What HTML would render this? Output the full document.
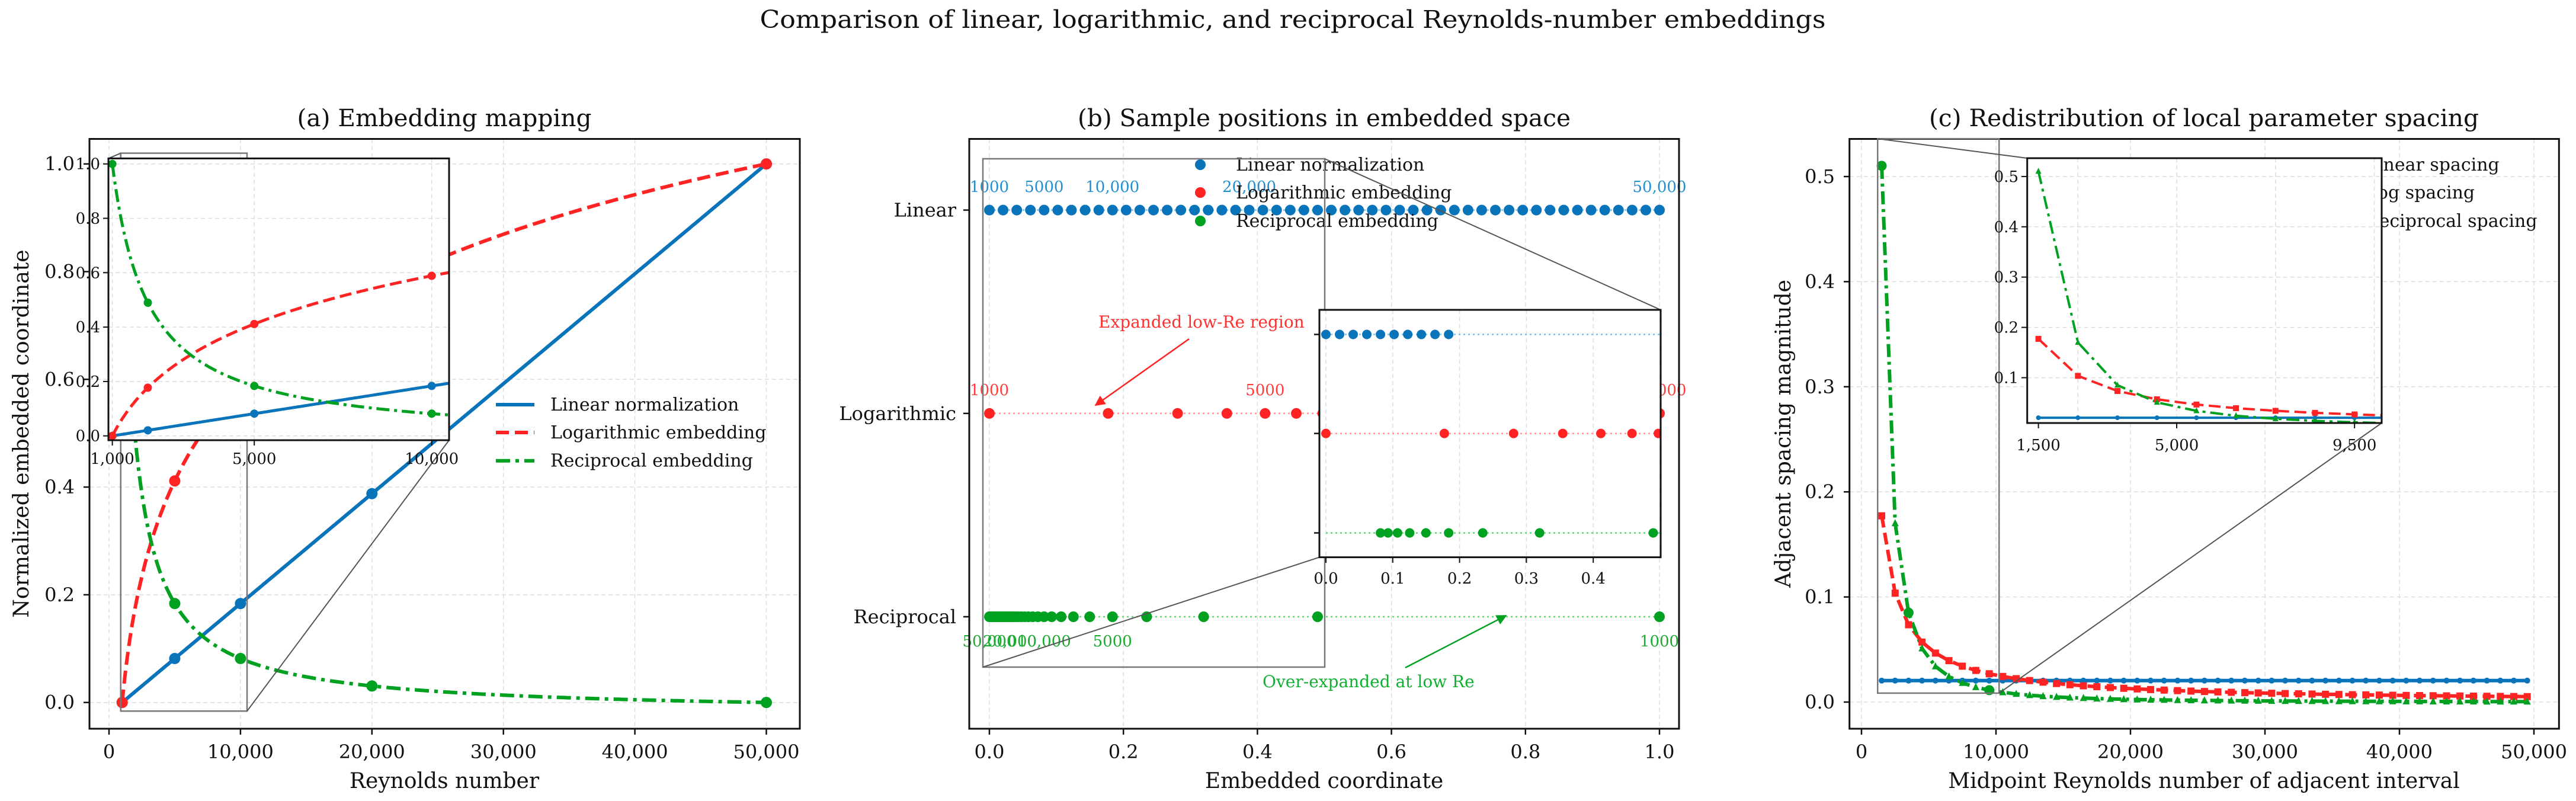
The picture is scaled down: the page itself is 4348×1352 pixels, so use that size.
<!DOCTYPE html>
<html><head><meta charset="utf-8"><title>Reynolds-number embeddings</title>
<style>
html,body{margin:0;padding:0;background:#fff;}
svg{display:block;font-family:"DejaVu Serif","Liberation Serif",serif;}
</style></head>
<body>
<svg id="fig" xmlns="http://www.w3.org/2000/svg" width="4348" height="1352" viewBox="0 0 4348 1352">
<defs>
<clipPath id="clipA"><rect x="151" y="234.5" width="1199" height="995.5"/></clipPath>
<clipPath id="clipAi"><rect x="183" y="267.4" width="575" height="475.6"/></clipPath>
<clipPath id="clipB"><rect x="1636" y="234.5" width="1198" height="995.5"/></clipPath>
<clipPath id="clipBi"><rect x="2227" y="523" width="576" height="417.6"/></clipPath>
<clipPath id="clipC"><rect x="3121.7" y="234.5" width="1197.6" height="995.5"/></clipPath>
<clipPath id="clipCi"><rect x="3421.7" y="267" width="598.3" height="447"/></clipPath>
<marker id="arrRed" viewBox="0 0 10 10" refX="9" refY="5" markerWidth="7" markerHeight="7" orient="auto"><path d="M0,0 L10,5 L0,10 z" fill="#ff2020"/></marker>
<marker id="arrGreen" viewBox="0 0 10 10" refX="9" refY="5" markerWidth="7" markerHeight="7" orient="auto"><path d="M0,0 L10,5 L0,10 z" fill="#00a020"/></marker>
</defs>
</svg>
<script>
// ---------------- data ----------------
const reSamples = [1000,2000,3000,4000,5000,6000,7000,8000,9000,10000,11000,12000,13000,14000,15000,16000,17000,18000,19000,20000,21000,22000,23000,24000,25000,26000,27000,28000,29000,30000,31000,32000,33000,34000,35000,36000,37000,38000,39000,40000,41000,42000,43000,44000,45000,46000,47000,48000,49000,50000];
const reMin = 1000;
const reMax = 50000;
const markerRe = [1000,5000,10000,20000,50000];
const insetMarkerRe = [1000,2000,5000,10000];
const insetSampleRe = [1000,2000,3000,4000,5000,6000,7000,8000,9000,10000];
const linearLabelRe = [1000,5000,10000,20000,50000];
const linearLabels = ["1000","5000","10,000","20,000","50,000"];
const logLabelRe = [1000,5000,50000];
const logLabels = ["1000","5000","50,000"];
const recLabelRe = [1000,5000,10000,20000,50000];
const recLabels = ["1000","5000","10,000","20,000","50,000"];
const midpoints = [1500,2500,3500,4500,5500,6500,7500,8500,9500,10500,11500,12500,13500,14500,15500,16500,17500,18500,19500,20500,21500,22500,23500,24500,25500,26500,27500,28500,29500,30500,31500,32500,33500,34500,35500,36500,37500,38500,39500,40500,41500,42500,43500,44500,45500,46500,47500,48500,49500];
const highlightMid = [1500,3500,9500];
const xTicksA = [0,10000,20000,30000,40000,50000];
const xTickLabelsA = ["0","10,000","20,000","30,000","40,000","50,000"];
const yTicksA = [0,0.2,0.4,0.6,0.8,1.0];
const yTickLabelsA = ["0.0","0.2","0.4","0.6","0.8","1.0"];
const xTicksAi = [1000,5000,10000];
const xTickLabelsAi = ["1,000","5,000","10,000"];
const xTicksB = [0,0.2,0.4,0.6,0.8,1.0];
const xTickLabelsB = ["0.0","0.2","0.4","0.6","0.8","1.0"];
const rowNames = ["Reciprocal","Logarithmic","Linear"];
const xTicksBi = [0,0.1,0.2,0.3,0.4];
const xTickLabelsBi = ["0.0","0.1","0.2","0.3","0.4"];
const yTicksC = [0,0.1,0.2,0.3,0.4,0.5];
const yTickLabelsC = ["0.0","0.1","0.2","0.3","0.4","0.5"];
const yTicksCi = [0.1,0.2,0.3,0.4,0.5];
const yTickLabelsCi = ["0.1","0.2","0.3","0.4","0.5"];
const xTicksCi = [1500,5000,9500];
const xTickLabelsCi = ["1,500","5,000","9,500"];

// embedding definitions
function linEmb(re){return (re-reMin)/(reMax-reMin);}
function logEmb(re){return Math.log(re/reMin)/Math.log(reMax/reMin);}
function recEmb(re){return (1/re-1/reMax)/(1/reMin-1/reMax);}
function linSp(m){return linEmb(m+500)-linEmb(m-500);}
function logSp(m){return logEmb(m+500)-logEmb(m-500);}
function recSp(m){return recEmb(m-500)-recEmb(m+500);}

// ---------------- scales ----------------
const xA=v=>184+v*0.02219, yA=v=>1185.7-v*909;
const xAi=v=>189.6+(v-1000)*0.0599, yAi=v=>735.7-v*459;
const xB=v=>1670+v*1131, yB=i=>1041-i*343.2;
const xBi=v=>2238+v*1128, yBiRows=[899.5,731.6,564.5];
const xC=v=>3142+v*0.0227, yC=v=>1185-v*1774;
const xCi=v=>3440.6+(v-1500)*0.0667, yCi=v=>637.5-(v-0.1)*849;

const BLUE="#0a74bb", RED="#ff2323", GREEN="#00a020";
const NS="http://www.w3.org/2000/svg";
const svg=document.getElementById('fig');
function E(tag,attrs,parent){const el=document.createElementNS(NS,tag);for(const k in attrs)el.setAttribute(k,attrs[k]);(parent||svg).appendChild(el);return el;}
function G(clip){const g=E('g',clip?{'clip-path':'url(#'+clip+')'}:{});return g;}
function T(x,y,s,size,anchor,fill,parent,extra){const t=E('text',Object.assign({x:x,y:y,'font-size':size,'text-anchor':anchor||'middle',fill:fill||'#111'},extra||{}),parent);t.textContent=s;return t;}
function pts(arr){return arr.map(p=>p[0].toFixed(1)+','+p[1].toFixed(1)).join(' ');}

let el;
// suptitle
el=T(2182,47,"Comparison of linear, logarithmic, and reciprocal Reynolds-number embeddings",41,'middle','#111',svg,{textLength:1799,lengthAdjust:'spacingAndGlyphs'});



// ================= PANEL A =================
const pA=G();  
el=T(750,213,"(a) Embedding mapping",40,'middle','#111',pA,{textLength:497,lengthAdjust:'spacingAndGlyphs'});


for(let i=0;i<xTicksA.length;i++){
  el=E('line',{x1:xA(xTicksA[i]),x2:xA(xTicksA[i]),y1:234.5,y2:1230,stroke:'#dddddd','stroke-width':1.5,'stroke-dasharray':'7,5'},pA);
  
  
}
for(let i=0;i<yTicksA.length;i++){
  el=E('line',{x1:151,x2:1350,y1:yA(yTicksA[i]),y2:yA(yTicksA[i]),stroke:'#dddddd','stroke-width':1.5,'stroke-dasharray':'7,5'},pA);
  
  
}
const gA=G('clipA'); pA.appendChild(gA);
const dense=[]; for(let r=reMin;r<=reMax;r+=100) dense.push(r);
el=E('polyline',{points:pts(dense.map(r=>[xA(r),yA(linEmb(r))])),fill:'none',stroke:BLUE,'stroke-width':6},gA);


el=E('polyline',{points:pts(dense.map(r=>[xA(r),yA(logEmb(r))])),fill:'none',stroke:RED,'stroke-width':6,'stroke-dasharray':'22,10'},gA);


el=E('polyline',{points:pts(dense.map(r=>[xA(r),yA(recEmb(r))])),fill:'none',stroke:GREEN,'stroke-width':6,'stroke-dasharray':'24,9,6,9'},gA);


for(let i=0;i<markerRe.length;i++){
  el=E('circle',{cx:xA(markerRe[i]),cy:yA(linEmb(markerRe[i])),r:9.5,fill:BLUE},gA);
  
  
  el=E('circle',{cx:xA(markerRe[i]),cy:yA(recEmb(markerRe[i])),r:9.5,fill:GREEN},gA);
  
  
  el=E('circle',{cx:xA(markerRe[i]),cy:yA(logEmb(markerRe[i])),r:9.5,fill:RED},gA);
  
  
}
el=E('rect',{x:151,y:234.5,width:1199,height:995.5,fill:'none',stroke:'#111','stroke-width':3},pA);


for(let i=0;i<xTicksA.length;i++){
  el=E('line',{x1:xA(xTicksA[i]),x2:xA(xTicksA[i]),y1:1230,y2:1240,stroke:'#111','stroke-width':2.5},pA);
  
  
  el=T(xA(xTicksA[i]),1280,xTickLabelsA[i],32,'middle','#111',pA);
  
  
}
for(let i=0;i<yTicksA.length;i++){
  el=E('line',{x1:141,x2:151,y1:yA(yTicksA[i]),y2:yA(yTicksA[i]),stroke:'#111','stroke-width':2.5},pA);
  
  
  el=T(126,yA(yTicksA[i])+11,yTickLabelsA[i],32,'end','#111',pA);
  
  
}
el=T(750,1330,"Reynolds number",36,'middle','#111',pA);


el=T(0,0,"Normalized embedded coordinate",36,'middle','#111',pA,{transform:'translate(48,732) rotate(-90)'});


const legA=[["Linear normalization",BLUE,'none'],["Logarithmic embedding",RED,'22,10'],["Reciprocal embedding",GREEN,'24,9,6,9']];
const legAy=[683,730,777.7];
for(let i=0;i<legA.length;i++){
  el=E('line',{x1:837,x2:902,y1:legAy[i],y2:legAy[i],stroke:legA[i][1],'stroke-width':6,'stroke-dasharray':legA[i][2]},pA);
  
  
  el=T(929,legAy[i]+10,legA[i][0],30,'start','#111',pA);
  
  
}
el=E('rect',{x:xA(890),y:yA(1.02),width:xA(10500)-xA(890),height:yA(-0.016)-yA(1.02),fill:'none',stroke:'#777','stroke-width':2.5},pA);


el=E('line',{x1:xA(10500),y1:yA(-0.016),x2:758,y2:743,stroke:'#555','stroke-width':2},pA);


el=E('line',{x1:xA(890),y1:yA(1.02),x2:183,y2:267.4,stroke:'#555','stroke-width':2},pA);


const iA=G(); pA.appendChild(iA);  
el=E('rect',{x:183,y:267.4,width:575,height:475.6,fill:'#fff'},iA);


for(let i=0;i<xTicksAi.length;i++){
  el=E('line',{x1:xAi(xTicksAi[i]),x2:xAi(xTicksAi[i]),y1:267.4,y2:743,stroke:'#dddddd','stroke-width':1.5,'stroke-dasharray':'7,5'},iA);
  
  
}
for(let i=0;i<yTicksA.length;i++){
  el=E('line',{x1:183,x2:758,y1:yAi(yTicksA[i]),y2:yAi(yTicksA[i]),stroke:'#dddddd','stroke-width':1.5,'stroke-dasharray':'7,5'},iA);
  
  
}
const gAi=G('clipAi'); iA.appendChild(gAi);
const denseI=[]; for(let r=reMin;r<=11000;r+=50) denseI.push(r);
el=E('polyline',{points:pts(denseI.map(r=>[xAi(r),yAi(linEmb(r))])),fill:'none',stroke:BLUE,'stroke-width':5},gAi);


el=E('polyline',{points:pts(denseI.map(r=>[xAi(r),yAi(logEmb(r))])),fill:'none',stroke:RED,'stroke-width':5,'stroke-dasharray':'20,9'},gAi);


el=E('polyline',{points:pts(denseI.map(r=>[xAi(r),yAi(recEmb(r))])),fill:'none',stroke:GREEN,'stroke-width':5,'stroke-dasharray':'22,8,5,8'},gAi);


for(let i=0;i<insetMarkerRe.length;i++){
  el=E('circle',{cx:xAi(insetMarkerRe[i]),cy:yAi(linEmb(insetMarkerRe[i])),r:7,fill:BLUE},gAi);
  
  
  el=E('circle',{cx:xAi(insetMarkerRe[i]),cy:yAi(logEmb(insetMarkerRe[i])),r:7,fill:RED},gAi);
  
  
  el=E('circle',{cx:xAi(insetMarkerRe[i]),cy:yAi(recEmb(insetMarkerRe[i])),r:7,fill:GREEN},gAi);
  
  
}
el=E('rect',{x:183,y:267.4,width:575,height:475.6,fill:'none',stroke:'#111','stroke-width':3},iA);


for(let i=0;i<xTicksAi.length;i++){
  el=E('line',{x1:xAi(xTicksAi[i]),x2:xAi(xTicksAi[i]),y1:743,y2:752,stroke:'#111','stroke-width':2},iA);
  
  
  el=T(xAi(xTicksAi[i]),783,xTickLabelsAi[i],26,'middle','#111',iA);
  
  
}
for(let i=0;i<yTicksA.length;i++){
  el=E('line',{x1:174,x2:183,y1:yAi(yTicksA[i]),y2:yAi(yTicksA[i]),stroke:'#111','stroke-width':2},iA);
  
  
  el=T(169,yAi(yTicksA[i])+9,yTickLabelsA[i],26,'end','#111',iA);
  
  
}

// ================= PANEL B =================
const pB=G();  
el=T(2235,213,"(b) Sample positions in embedded space",40,'middle','#111',pB,{textLength:832,lengthAdjust:'spacingAndGlyphs'});


for(let i=0;i<xTicksB.length;i++){
  el=E('line',{x1:xB(xTicksB[i]),x2:xB(xTicksB[i]),y1:234.5,y2:1230,stroke:'#dddddd','stroke-width':1.5,'stroke-dasharray':'7,5'},pB);
  
  
}
const gB=G('clipB'); pB.appendChild(gB);
const rowLine=["#6fce7a","#ff9a9a","#7ec0e8"];
const rowColor=[GREEN,RED,BLUE];
const rowFns=[recEmb,logEmb,linEmb];
for(let i=0;i<3;i++){
  el=E('line',{x1:xB(0),x2:xB(1),y1:yB(i),y2:yB(i),stroke:rowLine[i],'stroke-width':2.5,'stroke-dasharray':'3,5'},gB);
  
  
  for(let j=0;j<reSamples.length;j++){
    el=E('circle',{cx:xB(rowFns[i](reSamples[j])),cy:yB(i),r:9,fill:rowColor[i]},gB);
    
    
  }
}
for(let i=0;i<linearLabelRe.length;i++){
  el=T(xB(linEmb(linearLabelRe[i])),324,linearLabels[i],26,'middle','#1f8fd0',pB);
  
  
}
for(let i=0;i<logLabelRe.length;i++){
  el=T(xB(logEmb(logLabelRe[i])),667,logLabels[i],26,'middle','#ff3b3b',pB);
  
  
}
for(let i=0;i<recLabelRe.length;i++){
  el=T(xB(recEmb(recLabelRe[i])),1091,recLabels[i],26,'middle','#1aaa30',pB);
  
  
}
el=E('rect',{x:1636,y:234.5,width:1198,height:995.5,fill:'none',stroke:'#111','stroke-width':3},pB);


for(let i=0;i<xTicksB.length;i++){
  el=E('line',{x1:xB(xTicksB[i]),x2:xB(xTicksB[i]),y1:1230,y2:1240,stroke:'#111','stroke-width':2.5},pB);
  
  
  el=T(xB(xTicksB[i]),1280,xTickLabelsB[i],32,'middle','#111',pB);
  
  
}
for(let i=0;i<rowNames.length;i++){
  el=E('line',{x1:1626,x2:1636,y1:yB(i),y2:yB(i),stroke:'#111','stroke-width':2.5},pB);
  
  
  el=T(1614,yB(i)+11,rowNames[i],32,'end','#111',pB);
  
  
}
el=T(2235,1330,"Embedded coordinate",36,'middle','#111',pB);


const legB=[["Linear normalization",BLUE],["Logarithmic embedding",RED],["Reciprocal embedding",GREEN]];
const legBy=[278,325,373];
for(let i=0;i<legB.length;i++){
  el=E('circle',{cx:2026,cy:legBy[i],r:9,fill:legB[i][1]},pB);
  
  
  el=T(2086,legBy[i]+10,legB[i][0],30,'start','#111',pB);
  
  
}
el=E('rect',{x:1659,y:268,width:2236-1659,height:1126-268,fill:'none',stroke:'#777','stroke-width':2.5},pB);


el=E('line',{x1:2236,y1:268,x2:2803,y2:523,stroke:'#555','stroke-width':2},pB);


el=E('line',{x1:1659,y1:1126,x2:2227,y2:940.6,stroke:'#555','stroke-width':2},pB);


el=T(1854,553,"Expanded low-Re region",28,'start','#ff3030',pB);


el=E('line',{x1:2007,y1:572,x2:1849,y2:684,stroke:'#ff2020','stroke-width':2.5,'marker-end':'url(#arrRed)'},pB);


el=T(2131,1160,"Over-expanded at low Re",28,'start','#10b030',pB);


el=E('line',{x1:2372,y1:1127,x2:2542,y2:1039,stroke:GREEN,'stroke-width':2.5,'marker-end':'url(#arrGreen)'},pB);


const iB=G(); pB.appendChild(iB);  
el=E('rect',{x:2227,y:523,width:576,height:417.6,fill:'#fff'},iB);


for(let v=0;v<=0.5001;v+=0.1){
  el=E('line',{x1:xBi(v),x2:xBi(v),y1:523,y2:940.6,stroke:'#dddddd','stroke-width':1.5,'stroke-dasharray':'7,5'},iB);
  
  
}
const gBi=G('clipBi'); iB.appendChild(gBi);
for(let i=0;i<3;i++){
  el=E('line',{x1:xBi(0),x2:2803,y1:yBiRows[i],y2:yBiRows[i],stroke:rowLine[i],'stroke-width':2.5,'stroke-dasharray':'3,5'},gBi);
  
  
  for(let j=0;j<insetSampleRe.length;j++){
    el=E('circle',{cx:xBi(rowFns[i](insetSampleRe[j])),cy:yBiRows[i],r:8,fill:rowColor[i]},gBi);
    
    
  }
}
el=E('rect',{x:2227,y:523,width:576,height:417.6,fill:'none',stroke:'#111','stroke-width':3},iB);


for(let i=0;i<xTicksBi.length;i++){
  el=E('line',{x1:xBi(xTicksBi[i]),x2:xBi(xTicksBi[i]),y1:940.6,y2:950,stroke:'#111','stroke-width':2},iB);
  
  
  el=T(xBi(xTicksBi[i]),985,xTickLabelsBi[i],26,'middle','#111',iB);
  
  
}
for(let i=0;i<3;i++){
  el=E('line',{x1:2218,x2:2227,y1:yBiRows[i],y2:yBiRows[i],stroke:'#111','stroke-width':2.5},iB);
  
  
}

// ================= PANEL C =================
const pC=G();  
el=T(3720,213,"(c) Redistribution of local parameter spacing",40,'middle','#111',pC,{textLength:928,lengthAdjust:'spacingAndGlyphs'});


for(let i=0;i<xTicksA.length;i++){
  el=E('line',{x1:xC(xTicksA[i]),x2:xC(xTicksA[i]),y1:234.5,y2:1230,stroke:'#dddddd','stroke-width':1.5,'stroke-dasharray':'7,5'},pC);
  
  
}
for(let i=0;i<yTicksC.length;i++){
  el=E('line',{x1:3121.7,x2:4319.3,y1:yC(yTicksC[i]),y2:yC(yTicksC[i]),stroke:'#dddddd','stroke-width':1.5,'stroke-dasharray':'7,5'},pC);
  
  
}
const legC=["Linear spacing","Log spacing","Reciprocal spacing"];
const legCy=[278,325,373];
for(let i=0;i<legC.length;i++){
  el=T(3993,legCy[i]+10,legC[i],30,'start','#111',pC);
  
  
}
function drawSpacing(parent,xf,yf,name,small){
  const lw=small?4:6;
  let e;
  e=E('polyline',{points:pts(midpoints.map(m=>[xf(m),yf(linSp(m))])),fill:'none',stroke:BLUE,'stroke-width':lw},parent);
  
  
  e=E('polyline',{points:pts(midpoints.map(m=>[xf(m),yf(logSp(m))])),fill:'none',stroke:RED,'stroke-width':lw,'stroke-dasharray':'20,9'},parent);
  
  
  e=E('polyline',{points:pts(midpoints.map(m=>[xf(m),yf(recSp(m))])),fill:'none',stroke:GREEN,'stroke-width':lw,'stroke-dasharray':'22,8,5,8'},parent);
  
  
  const ms=small?4:5;
  for(let j=0;j<midpoints.length;j++){
    const x=xf(midpoints[j]);
    e=E('circle',{cx:x,cy:yf(linSp(midpoints[j])),r:ms,fill:BLUE},parent);
    
    
    const yl=yf(logSp(midpoints[j]));
    e=E('rect',{x:x-ms-1,y:yl-ms-1,width:2*ms+2,height:2*ms+2,fill:RED},parent);
    
    
    const yr=yf(recSp(midpoints[j]));
    e=E('polygon',{points:pts([[x,yr-ms-2],[x-ms-1,yr+ms],[x+ms+1,yr+ms]]),fill:GREEN},parent);
    
    
  }
}
const gC=G('clipC'); pC.appendChild(gC);
drawSpacing(gC,xC,yC,'panel-c',false);
for(let i=0;i<highlightMid.length;i++){
  el=E('circle',{cx:xC(highlightMid[i]),cy:yC(recSp(highlightMid[i])),r:8.5,fill:GREEN},gC);
  
  
}
el=E('rect',{x:3121.7,y:234.5,width:1197.6,height:995.5,fill:'none',stroke:'#111','stroke-width':3},pC);


for(let i=0;i<xTicksA.length;i++){
  el=E('line',{x1:xC(xTicksA[i]),x2:xC(xTicksA[i]),y1:1230,y2:1240,stroke:'#111','stroke-width':2.5},pC);
  
  
  el=T(xC(xTicksA[i]),1280,xTickLabelsA[i],32,'middle','#111',pC);
  
  
}
for(let i=0;i<yTicksC.length;i++){
  el=E('line',{x1:3112,x2:3121.7,y1:yC(yTicksC[i]),y2:yC(yTicksC[i]),stroke:'#111','stroke-width':2.5},pC);
  
  
  el=T(3097,yC(yTicksC[i])+11,yTickLabelsC[i],32,'end','#111',pC);
  
  
}
el=T(3720,1330,"Midpoint Reynolds number of adjacent interval",36,'middle','#111',pC);


el=T(0,0,"Adjacent spacing magnitude",36,'middle','#111',pC,{transform:'translate(3022,732) rotate(-90)'});


el=E('rect',{x:xC(1200),y:yC(0.536),width:xC(10230)-xC(1200),height:yC(0.0085)-yC(0.536),fill:'none',stroke:'#777','stroke-width':2.5},pC);


el=E('line',{x1:xC(1200),y1:yC(0.536),x2:3421.7,y2:267,stroke:'#555','stroke-width':2},pC);


el=E('line',{x1:xC(10230),y1:yC(0.0085),x2:4020,y2:714,stroke:'#555','stroke-width':2},pC);


const iC=G(); pC.appendChild(iC);  
el=E('rect',{x:3421.7,y:267,width:598.3,height:447,fill:'#fff'},iC);


for(let v=2500;v<=10000;v+=2500){
  el=E('line',{x1:xCi(v),x2:xCi(v),y1:267,y2:714,stroke:'#dddddd','stroke-width':1.5,'stroke-dasharray':'7,5'},iC);
  
  
}
for(let i=0;i<yTicksCi.length;i++){
  el=E('line',{x1:3421.7,x2:4020,y1:yCi(yTicksCi[i]),y2:yCi(yTicksCi[i]),stroke:'#dddddd','stroke-width':1.5,'stroke-dasharray':'7,5'},iC);
  
  
}
const gCi=G('clipCi'); iC.appendChild(gCi);
drawSpacing(gCi,xCi,yCi,'panel-c-inset',true);
el=E('rect',{x:3421.7,y:267,width:598.3,height:447,fill:'none',stroke:'#111','stroke-width':3},iC);


for(let i=0;i<xTicksCi.length;i++){
  el=E('line',{x1:xCi(xTicksCi[i]),x2:xCi(xTicksCi[i]),y1:714,y2:723,stroke:'#111','stroke-width':2},iC);
  
  
  el=T(xCi(xTicksCi[i]),760,xTickLabelsCi[i],26,'middle','#111',iC);
  
  
}
for(let i=0;i<yTicksCi.length;i++){
  el=E('line',{x1:3412,x2:3421.7,y1:yCi(yTicksCi[i]),y2:yCi(yTicksCi[i]),stroke:'#111','stroke-width':2},iC);
  
  
  el=T(3407,yCi(yTicksCi[i])+9,yTickLabelsCi[i],26,'end','#111',iC);
  
  
}
</script>
</body></html>
